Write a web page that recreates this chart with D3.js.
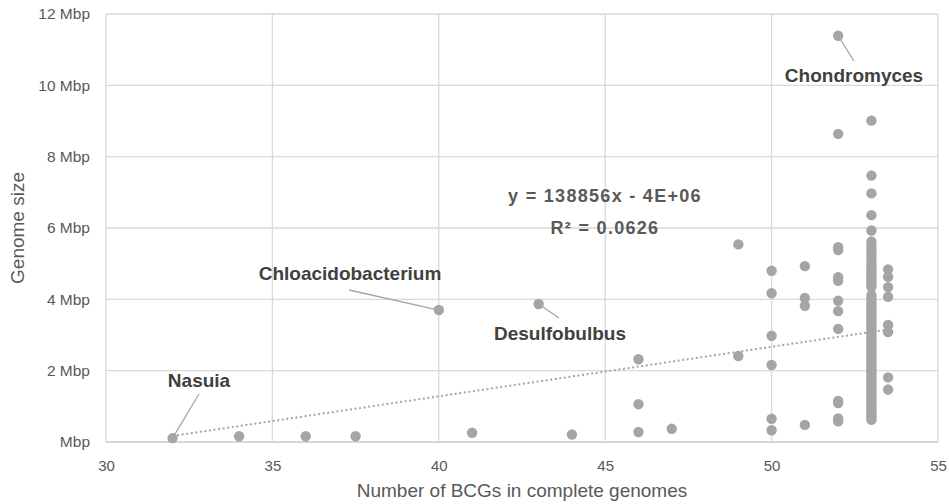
<!DOCTYPE html>
<html>
<head>
<meta charset="utf-8">
<script src="https://cdn.jsdelivr.net/npm/d3@7/dist/d3.min.js"></script>
<style>
  html, body { margin: 0; padding: 0; background: #fff; }
  svg { display: block; font-family: "Liberation Sans", Arial, sans-serif; }
</style>
</head>
<body>
<svg id="chart" width="949" height="504"></svg>
<script>
// Number of BCGs found in each complete genome (x) and its genome size in Mbp (y)
const bcgCounts = [
  32, 34, 36, 37.5, 40, 41, 43, 44,
  46, 46, 46, 47,
  49, 49,
  50, 50, 50, 50, 50, 50,
  51, 51, 51, 51,
  52, 52, 52, 52, 52, 52, 52, 52, 52, 52, 52, 52, 52,
  53, 53, 53, 53, 53, 53,
  53, 53, 53, 53, 53, 53, 53, 53, 53, 53, 53, 53, 53, 53,
  53, 53, 53, 53, 53, 53, 53, 53, 53, 53, 53, 53, 53, 53, 53, 53, 53, 53, 53, 53,
  53, 53, 53, 53, 53, 53, 53, 53, 53, 53, 53, 53, 53, 53, 53, 53, 53, 53, 53, 53,
  53, 53, 53, 53, 53, 53,
  53.5, 53.5, 53.5, 53.5, 53.5, 53.5, 53.5, 53.5
];
const genomeSizes = [
  0.11, 0.16, 0.16, 0.16, 3.70, 0.26, 3.87, 0.21,
  2.32, 1.06, 0.28, 0.37,
  5.54, 2.41,
  4.80, 4.17, 2.98, 2.16, 0.65, 0.33,
  4.93, 4.04, 3.82, 0.48,
  11.39, 8.64, 5.46, 5.38, 4.62, 4.52, 3.96, 3.67, 3.17, 1.15, 1.09, 0.66, 0.58,
  9.01, 7.47, 6.97, 6.36, 5.93, 5.62,
  5.50, 5.40, 5.30, 5.20, 5.08, 4.98, 4.88, 4.80, 4.72, 4.65, 4.57, 4.50, 4.42, 4.35,
  4.12, 4.04, 3.96, 3.88, 3.81, 3.73, 3.66, 3.58, 3.50, 3.42, 3.33, 3.25, 3.18, 3.10, 3.02, 2.93, 2.85, 2.77, 2.68, 2.60,
  2.52, 2.43, 2.35, 2.28, 2.20, 2.12, 2.03, 1.95, 1.88, 1.80, 1.72, 1.64, 1.55, 1.48, 1.40, 1.33, 1.25, 1.18, 1.10, 1.02,
  0.95, 0.88, 0.81, 0.75, 0.68, 0.62,
  4.84, 4.63, 4.34, 4.07, 3.28, 3.08, 1.81, 1.47
];

// Axis ticks
const xTicks = [30, 35, 40, 45, 50, 55];
const yTicks = [0, 2, 4, 6, 8, 10, 12];
const yTickLabels = ["Mbp", "2 Mbp", "4 Mbp", "6 Mbp", "8 Mbp", "10 Mbp", "12 Mbp"];

// Linear trend line (genome size in bp) and its fit
const trendSlope = 138856;
const trendIntercept = -4273000;
const trendR2 = 0.0626;

// Named genera
const genusNames = ["Chondromyces", "Chloacidobacterium", "Desulfobulbus", "Nasuia"];
const genusBcg = [52, 40, 43, 32];
const genusSize = [11.39, 3.70, 3.87, 0.11];

const points = bcgCounts.map((x, i) => ({ x, y: genomeSizes[i] }));

const svg = d3.select("#chart");
const margin = { top: 14, right: 11, bottom: 62, left: 106 };
const width = 949 - margin.left - margin.right;
const height = 504 - margin.top - margin.bottom;

const x = d3.scaleLinear().domain([30, 55]).range([margin.left, margin.left + width]);
const y = d3.scaleLinear().domain([0, 12]).range([margin.top + height, margin.top]);

const gridColor = "#d9d9d9";
const textColor = "#595959";
const dotColor = "#a5a5a5";

// Grid
const grid = svg.append("g");
grid.selectAll("line.h").data(yTicks).join("line")
  .attr("x1", x(30)).attr("x2", x(55))
  .attr("y1", d => y(d)).attr("y2", d => y(d))
  .attr("stroke", d => d === 0 ? "#c8c8c8" : gridColor).attr("stroke-width", 1.3);
grid.selectAll("line.v").data(xTicks).join("line")
  .attr("y1", y(0)).attr("y2", y(12))
  .attr("x1", d => x(d)).attr("x2", d => x(d))
  .attr("stroke", gridColor).attr("stroke-width", 1.3);

// Axes (labels only; lines come from the grid)
const xAxis = svg.append("g")
  .attr("transform", `translate(0,${y(0)})`)
  .call(d3.axisBottom(x).tickValues(xTicks).tickSize(0).tickPadding(18).tickFormat(d3.format("d")));
xAxis.select(".domain").remove();
xAxis.selectAll("text").attr("fill", textColor).attr("font-size", 15)
  .attr("font-family", "'Liberation Sans', Arial, sans-serif");

const yAxis = svg.append("g")
  .attr("transform", `translate(${x(30)},0)`)
  .call(d3.axisLeft(y).tickValues(yTicks).tickSize(0).tickPadding(16)
    .tickFormat((d, i) => yTickLabels[i]));
yAxis.select(".domain").remove();
yAxis.selectAll("text").attr("fill", textColor).attr("font-size", 15.5)
  .attr("font-family", "'Liberation Sans', Arial, sans-serif");

// Axis titles
svg.append("text")
  .attr("x", margin.left + width / 2).attr("y", 497)
  .attr("text-anchor", "middle").attr("fill", textColor).attr("font-size", 19)
  .text("Number of BCGs in complete genomes");
svg.append("text")
  .attr("transform", `translate(24,${margin.top + height / 2}) rotate(-90)`)
  .attr("text-anchor", "middle").attr("fill", textColor).attr("font-size", 19)
  .text("Genome size");

// Trend line across the data range
const [xMin, xMax] = d3.extent(bcgCounts);
const trend = x0 => (trendSlope * x0 + trendIntercept) / 1e6;
svg.append("line")
  .attr("x1", x(xMin)).attr("y1", y(trend(xMin)))
  .attr("x2", x(xMax)).attr("y2", y(trend(xMax)))
  .attr("stroke", dotColor).attr("stroke-width", 2)
  .attr("stroke-dasharray", "2,2.6");

// Points
svg.append("g").selectAll("circle").data(points).join("circle")
  .attr("cx", d => x(d.x)).attr("cy", d => y(d.y)).attr("r", 5.2)
  .attr("fill", dotColor);

// Trend equation
const expFmt = v => {
  const [m, e] = Math.abs(v).toExponential(0).split("e");
  const sign = e[0] === "-" ? "-" : "+";
  return `${m}E${sign}${e.slice(1).padStart(2, "0")}`;
};
const eqText = `y = ${trendSlope}x ${trendIntercept < 0 ? "-" : "+"} ${expFmt(trendIntercept)}`;
const eq = svg.append("g").attr("fill", textColor).attr("font-weight", "bold")
  .attr("font-size", 18).attr("text-anchor", "middle").attr("letter-spacing", 1.3);
eq.append("text").attr("x", 605).attr("y", 202).text(eqText);
eq.append("text").attr("x", 605).attr("y", 234).text(`R² = ${trendR2}`);

// Genus labels with leader lines
const labelPos = [
  { tx: 854, ty: 82, lx: 854, ly: 61 },
  { tx: 350, ty: 280, lx: 349, ly: 290 },
  { tx: 560, ty: 340, lx: 559, ly: 318 },
  { tx: 199, ty: 387, lx: 199, ly: 394 }
];
const labels = svg.append("g");
genusNames.forEach((name, i) => {
  const p = labelPos[i];
  labels.append("line")
    .attr("x1", x(genusBcg[i])).attr("y1", y(genusSize[i]))
    .attr("x2", p.lx).attr("y2", p.ly)
    .attr("stroke", "#a6a6a6").attr("stroke-width", 1.3);
  labels.append("text")
    .attr("x", p.tx).attr("y", p.ty).attr("text-anchor", "middle")
    .attr("font-weight", "bold").attr("font-size", 19).attr("fill", "#404040")
    .text(name);
});
</script>
</body>
</html>
